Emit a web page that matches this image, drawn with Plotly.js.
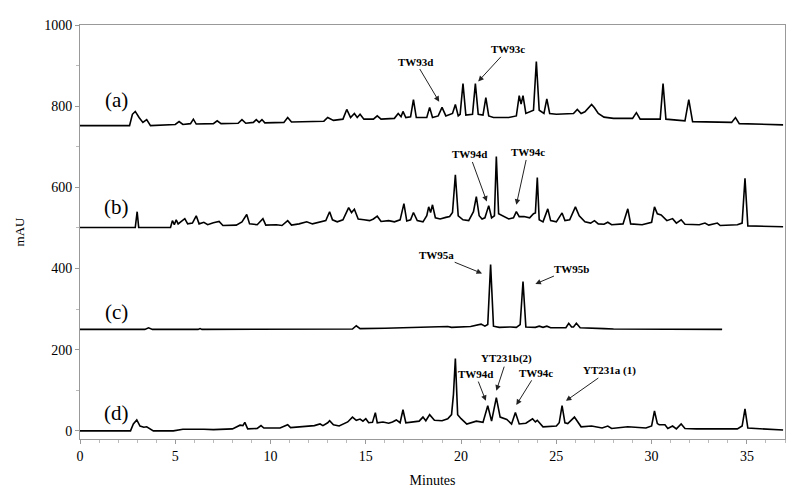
<!DOCTYPE html>
<html>
<head>
<meta charset="utf-8">
<script src="https://cdn.plot.ly/plotly-3.0.1.min.js"></script>
<style>
  html, body { margin: 0; padding: 0; background: #fff; }
  #chart { width: 800px; height: 503px; }
</style>
</head>
<body>
<div id="chart"></div>
<script>
// Chromatograms (a)-(d), stacked with offsets (mAU as plotted)

const timeA = [0, 2.6, 2.75, 2.9, 3.1, 3.3, 3.5, 3.7, 5.0, 5.2, 5.4, 5.8, 5.95, 6.1, 7.0, 7.2, 7.4, 8.3, 8.5, 8.7,
  9.1, 9.25, 9.4, 9.55, 9.7, 10.7, 10.9, 11.1, 12.8, 13.0, 13.3, 13.8, 14.0, 14.2, 14.4, 14.55, 14.7, 14.9,
  15.4, 15.6, 15.8, 16.5, 16.7, 16.85, 16.95, 17.1, 17.35, 17.5, 17.65, 18.2, 18.35, 18.5, 18.8, 19.0, 19.2,
  19.4, 19.55, 19.7, 19.85, 19.95, 20.1, 20.25, 20.6, 20.75, 20.9, 21.15, 21.3, 21.45, 21.7, 22.5, 22.9,
  23.05, 23.15, 23.25, 23.4, 23.8, 23.95, 24.1, 24.35, 24.5, 24.65, 25.0, 25.9, 26.1, 26.3, 26.5, 26.7,
  26.85, 27.0, 27.2, 27.5, 28.0, 29.0, 29.2, 29.4, 30.45, 30.6, 30.75, 31.75, 31.95, 32.15, 34.2, 34.4,
  34.6, 36.9];
const mauA = [752, 752, 780, 787, 772, 760, 767, 752, 755, 762, 755, 757, 768, 756, 757, 764, 757, 758, 767, 758,
  760, 767, 760, 767, 759, 760, 772, 761, 763, 772, 765, 768, 792, 772, 782, 772, 780, 768,
  768, 776, 768, 770, 782, 774, 787, 772, 774, 816, 772, 772, 797, 772, 776, 797, 776,
  780, 782, 804, 776, 780, 856, 778, 780, 856, 780, 778, 821, 776, 772, 772, 776,
  826, 805, 826, 782, 790, 910, 790, 782, 818, 782, 780, 782, 792, 782, 786, 798,
  804, 796, 782, 773, 770, 770, 784, 768, 768, 856, 768, 764, 816, 762, 760, 772,
  757, 754];

const timeB = [0, 2.9, 3.0, 3.08, 4.75, 4.85, 4.95, 5.05, 5.15, 5.3, 5.5, 5.65, 5.9, 6.1, 6.25, 6.5, 6.7, 7.0,
  7.3, 7.5, 8.2, 8.5, 8.75, 8.9, 9.3, 9.6, 9.75, 10.3, 10.6, 10.9, 11.1, 11.5, 11.9, 12.2, 12.6, 12.9, 13.1,
  13.25, 13.5, 13.8, 14.1, 14.25, 14.4, 14.6, 14.9, 15.2, 15.4, 15.6, 15.8, 16.2, 16.5, 16.8, 17.0, 17.15,
  17.35, 17.5, 17.7, 18.0, 18.2, 18.3, 18.4, 18.5, 18.65, 18.9, 19.2, 19.4, 19.55, 19.7, 19.85, 20.1, 20.4,
  20.65, 20.8, 20.95, 21.1, 21.25, 21.45, 21.6, 21.75, 21.85, 21.97, 22.2, 22.5, 22.75, 22.9, 23.05, 23.3,
  23.6, 23.8, 23.9, 24.0, 24.1, 24.3, 24.55, 24.7, 25.0, 25.15, 25.3, 25.45, 25.7, 26.0, 26.2, 26.5, 26.8,
  27.0, 27.2, 27.5, 27.7, 27.9, 28.5, 28.75, 28.9, 29.5, 30.0, 30.15, 30.3, 30.5, 30.8, 31.1, 31.3, 31.55,
  31.75, 32.5, 32.8, 33.0, 33.45, 33.6, 34.5, 34.75, 34.9, 35.05, 36.9];
const mauB = [501, 501, 540, 501, 501, 518, 508, 520, 510, 516, 523, 510, 512, 530, 510, 514, 508, 513,
  516, 506, 507, 515, 533, 510, 508, 523, 507, 508, 506, 518, 507, 510, 515, 510, 514, 518, 540,
  520, 515, 520, 550, 538, 546, 522, 520, 518, 522, 529, 516, 518, 515, 520, 560, 517,
  520, 538, 518, 515, 530, 552, 538, 557, 525, 522, 526, 528, 538, 631, 530, 520, 518,
  540, 577, 530, 522, 525, 555, 525, 530, 676, 535, 530, 522, 525, 540, 528, 528,
  525, 535, 537, 624, 520, 515, 547, 518, 515, 525, 537, 518, 520, 552, 530, 515, 512,
  518, 510, 509, 514, 508, 510, 547, 510, 508, 514, 552, 535, 532, 518, 523, 512, 520,
  509, 508, 512, 507, 512, 506, 508, 512, 622, 505, 503];

const timeC = [0, 3.4, 3.6, 3.8, 6.2, 6.3, 6.4, 14.3, 14.5, 14.7, 16.0, 17.0, 18.0, 19.3, 19.5, 20.5, 21.05,
  21.25, 21.4, 21.55, 21.7, 22.0, 22.6, 22.9, 23.1, 23.25, 23.4, 23.9, 24.1, 24.3, 24.5, 24.7, 25.5, 25.65,
  25.8, 25.9, 26.05, 26.25, 27.5, 28.0, 33.7];
const mauC = [250, 250, 254, 250, 250, 252, 250, 251, 259, 252, 253, 254, 255, 257, 255, 257, 263,
  258, 262, 410, 258, 255, 256, 255, 262, 368, 256, 255, 258, 255, 258, 254, 254, 265,
  256, 256, 265, 254, 252, 251, 250];

const timeD = [0, 2.65, 2.8, 2.98, 3.15, 3.35, 3.5, 3.85, 4.9, 5.2, 5.4, 6.5, 7.0, 8.0, 8.4, 8.55, 8.65, 8.8,
  9.3, 9.5, 9.65, 10.5, 10.9, 11.05, 11.5, 12.0, 12.3, 12.6, 12.75, 13.0, 13.1, 13.3, 13.6, 14.05, 14.3,
  14.5, 14.7, 14.85, 15.0, 15.15, 15.35, 15.5, 15.6, 15.9, 16.2, 16.4, 16.6, 16.8, 16.95, 17.1, 17.5, 17.8,
  18.0, 18.15, 18.35, 18.6, 19.0, 19.3, 19.5, 19.6, 19.7, 19.82, 20.0, 20.3, 20.8, 21.15, 21.4, 21.6, 21.85,
  22.05, 22.4, 22.65, 22.85, 23.05, 23.4, 23.75, 23.9, 24.0, 24.3, 25.0, 25.15, 25.3, 25.45, 25.6, 25.95,
  26.3, 26.85, 27.4, 27.7, 27.9, 28.75, 29.7, 30.0, 30.15, 30.3, 30.4, 30.7, 30.85, 31.1, 31.3, 31.55,
  31.75, 32.35, 34.5, 34.75, 34.9, 35.05, 36.9];
const mauD = [0, 0, 17, 27, 12, 9, 10, 0, 0, 3, 4, 4, 3, 5, 14, 13, 21, 5,
  6, 13, 7, 7, 15, 8, 10, 11, 13, 17, 13, 20, 25, 15, 12, 22, 34,
  26, 29, 24, 30, 20, 21, 45, 20, 22, 19, 22, 27, 20, 52, 20, 22, 24,
  34, 25, 40, 26, 25, 30, 40, 90, 178, 40, 30, 17, 24, 21, 62, 24, 82,
  34, 28, 17, 45, 17, 19, 30, 22, 26, 10, 12, 20, 62, 20, 18, 34,
  10, 12, 7, 12, 6, 10, 7, 12, 49, 18, 15, 15, 6, 12, 5, 17,
  6, 5, 5, 12, 54, 7, 2];

const panelLabels = ['(a)', '(b)', '(c)', '(d)'];
const panelLevels = [816, 552, 293, 44];

// peak labels: text, arrow tip (time, mAU), label centre (time, mAU)
const peakNames = ['TW93d', 'TW93c', 'TW94d', 'TW94c', 'TW95a', 'TW95b', 'TW94d', 'YT231b(2)', 'TW94c', 'YT231a (1)'];
const peakTipTime = [18.85, 20.9, 21.35, 22.9, 21.1, 23.9, 21.3, 21.85, 22.9, 25.5];
const peakTipMau = [811, 861, 565, 557, 388, 362, 74, 99, 64, 74];
const labelTime = [17.6, 22.45, 20.45, 23.5, 18.7, 25.8, 20.75, 22.4, 23.95, 27.8];
const labelMau = [910, 940, 681, 686, 434, 400, 140, 178, 143, 150];

const serif = 'Liberation Serif, Times New Roman, serif';

function lineTrace(x, y) {
    return {
        x: x,
        y: y,
        type: 'scatter',
        mode: 'lines',
        line: { color: '#000000', width: 1.6 },
        hoverinfo: 'skip',
        showlegend: false
    };
}

const traces = [
    lineTrace(timeA, mauA),
    lineTrace(timeB, mauB),
    lineTrace(timeC, mauC),
    lineTrace(timeD, mauD)
];

const annotations = [];

panelLabels.forEach((txt, i) => {
    annotations.push({
        x: 1.9, y: panelLevels[i], xref: 'x', yref: 'y',
        text: txt, showarrow: false,
        font: { family: serif, size: 21, color: '#000' }
    });
});

peakNames.forEach((txt, i) => {
    annotations.push({
        x: peakTipTime[i], y: peakTipMau[i], xref: 'x', yref: 'y',
        ax: labelTime[i], ay: labelMau[i], axref: 'x', ayref: 'y',
        text: '<b>' + txt + '</b>',
        showarrow: true, arrowhead: 2, arrowsize: 1.1, arrowwidth: 1,
        arrowcolor: '#222', standoff: 0, startstandoff: 0,
        font: { family: serif, size: 11, color: '#000' }
    });
});

const layout = {
    width: 800,
    height: 503,
    margin: { l: 80, r: 15, t: 25, b: 64 },
    paper_bgcolor: '#ffffff',
    plot_bgcolor: '#ffffff',
    font: { family: serif, size: 14, color: '#000' },
    showlegend: false,
    xaxis: {
        range: [0, 37],
        tick0: 0,
        dtick: 5,
        ticks: 'outside',
        ticklen: 4,
        tickcolor: '#999',
        minor: { dtick: 1, ticks: 'outside', ticklen: 3, tickcolor: '#bbb' },
        showline: true,
        linecolor: '#999',
        linewidth: 1,
        mirror: true,
        showgrid: false,
        zeroline: false,
        tickfont: { family: serif, size: 14 },
        title: { text: 'Minutes', font: { family: serif, size: 14 }, standoff: 12 }
    },
    yaxis: {
        range: [-20, 1000],
        tick0: 0,
        dtick: 200,
        ticks: 'outside',
        ticklen: 4,
        tickcolor: '#999',
        minor: { dtick: 100, ticks: 'outside', ticklen: 3, tickcolor: '#bbb' },
        showline: true,
        linecolor: '#999',
        linewidth: 1,
        mirror: true,
        showgrid: false,
        zeroline: false,
        tickfont: { family: serif, size: 14 },
        title: { text: 'mAU', font: { family: serif, size: 13 }, standoff: 16 }
    },
    annotations: annotations
};

Plotly.newPlot('chart', traces, layout, { displayModeBar: false, staticPlot: true });
</script>
</body>
</html>
